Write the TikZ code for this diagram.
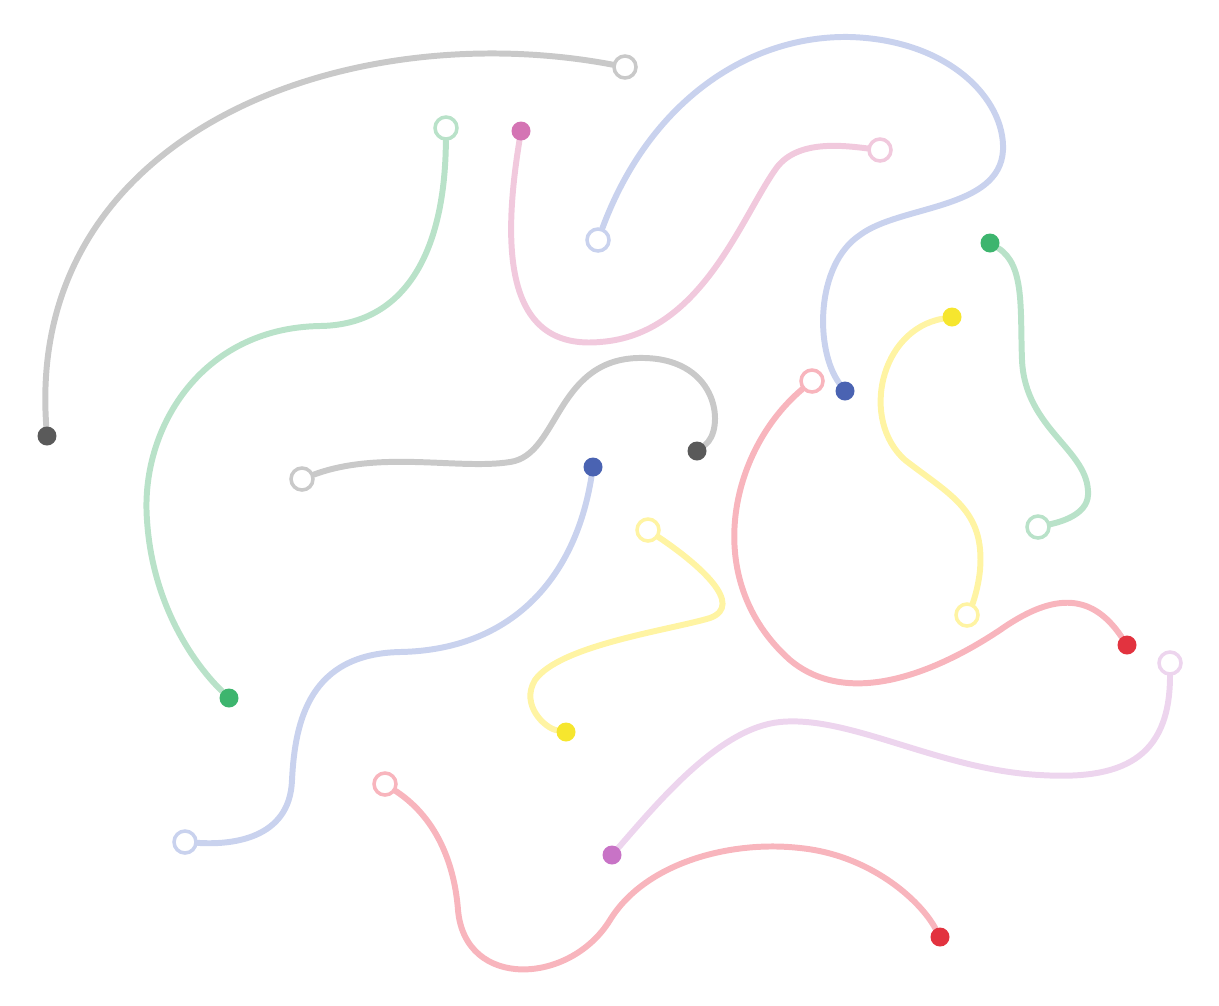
\documentclass[tikz,border=0pt]{standalone}
\usepackage{xcolor}
\usepackage{tikz}
\usetikzlibrary{positioning,calc}
\definecolor{grayline}{HTML}{C9C9C9}
\definecolor{graydot}{HTML}{5A5A5A}
\definecolor{greenline}{HTML}{B9E2C9}
\definecolor{greendot}{HTML}{3DB56E}
\definecolor{blueline}{HTML}{C9D2EE}
\definecolor{bluedot}{HTML}{4A63B2}
\definecolor{pinkline}{HTML}{F1C9DD}
\definecolor{pinkdot}{HTML}{D474B4}
\definecolor{lilacline}{HTML}{EDD5EE}
\definecolor{lilacdot}{HTML}{C873C6}
\definecolor{yellowline}{HTML}{FFF4A3}
\definecolor{yellowdot}{HTML}{F6E62E}
\definecolor{redline}{HTML}{F8B5BD}
\definecolor{reddot}{HTML}{E2333F}
\pgfdeclarelayer{wires}
\pgfsetlayers{wires,main}

\begin{document}
\begin{tikzpicture}[x=0.02cm, y=-0.02cm,
  wire/.style={line width=3.4pt, line cap=round},
  enddot/.style={circle, inner sep=0pt, minimum size=0.38cm},
  endring/.style={circle, inner sep=0pt, minimum size=0.44cm, fill=white, line width=2pt}]
  \useasboundingbox (0,0) rectangle (1219,1005);
  % end points
  \node[enddot, fill=graydot] (grayonestart) at (47,436) {};
  \node[endring, draw=grayline] (grayoneend) at (625,67) {};
  \node[endring, draw=grayline] (graytwostart) at (302,479) {};
  \node[enddot, fill=graydot] (graytwoend) at (697,451) {};
  \node[endring, draw=greenline] (greenonestart) at (446,128) {};
  \node[enddot, fill=greendot] (greenoneend) at (229,698) {};
  \node[enddot, fill=greendot] (greentwostart) at (990,243) {};
  \node[endring, draw=greenline] (greentwoend) at (1038,527) {};
  \node[enddot, fill=pinkdot] (pinkstart) at (521,131) {};
  \node[endring, draw=pinkline] (pinkend) at (880,150) {};
  \node[endring, draw=blueline] (blueonestart) at (598,240) {};
  \node[enddot, fill=bluedot] (blueoneend) at (845,391) {};
  \node[enddot, fill=bluedot] (bluetwostart) at (593,467) {};
  \node[endring, draw=blueline] (bluetwoend) at (185,842) {};
  \node[enddot, fill=yellowdot] (yellowonestart) at (952,317) {};
  \node[endring, draw=yellowline] (yellowoneend) at (967,615) {};
  \node[endring, draw=yellowline] (yellowtwostart) at (648,530) {};
  \node[enddot, fill=yellowdot] (yellowtwoend) at (566,732) {};
  \node[endring, draw=redline] (redonestart) at (812,381) {};
  \node[enddot, fill=reddot] (redoneend) at (1127,645) {};
  \node[endring, draw=lilacline] (lilacstart) at (1170,663) {};
  \node[enddot, fill=lilacdot] (lilacend) at (612,855) {};
  \node[endring, draw=redline] (redtwostart) at (385,784) {};
  \node[enddot, fill=reddot] (redtwoend) at (940,937) {};
  % curves
  \begin{pgfonlayer}{wires}
  \draw[wire, grayline] (grayonestart) .. controls (25,130) and (350,15) .. (grayoneend);
  \draw[wire, grayline] (graytwostart) .. controls (380,450) and (460,470) .. (510,462)
    .. controls (560,455) and (555,355) .. (645,358)
    .. controls (720,360) and (725,430) .. (graytwoend);
  \draw[wire, greenline] (greenonestart) .. controls (445,260) and (400,325) .. (320,326)
    .. controls (200,328) and (140,430) .. (147,520)
    .. controls (152,600) and (190,660) .. (greenoneend);
  \draw[wire, greenline] (greentwostart) .. controls (1025,265) and (1020,310) .. (1022,360)
    .. controls (1025,430) and (1090,450) .. (1088,495)
    .. controls (1087,515) and (1060,522) .. (greentwoend);
  \draw[wire, pinkline] (pinkstart) .. controls (500,260) and (510,350) .. (600,342)
    .. controls (700,335) and (740,220) .. (775,170)
    .. controls (795,140) and (840,145) .. (pinkend);
  \draw[wire, blueline] (blueonestart) .. controls (650,100) and (750,35) .. (850,37)
    .. controls (950,40) and (1005,100) .. (1003,150)
    .. controls (1000,210) and (900,205) .. (860,235)
    .. controls (815,265) and (815,350) .. (blueoneend);
  \draw[wire, blueline] (bluetwostart) .. controls (575,580) and (510,650) .. (400,652)
    .. controls (310,654) and (295,720) .. (292,780)
    .. controls (290,840) and (230,845) .. (bluetwoend);
  \draw[wire, yellowline] (yellowonestart) .. controls (880,330) and (860,420) .. (905,460)
    .. controls (950,495) and (985,510) .. (980,570)
    .. controls (978,590) and (972,605) .. (yellowoneend);
  \draw[wire, yellowline] (yellowtwostart) .. controls (700,565) and (745,605) .. (710,618)
    .. controls (670,630) and (560,645) .. (535,680)
    .. controls (520,705) and (545,728) .. (yellowtwoend);
  \draw[wire, redline] (redonestart) .. controls (730,450) and (700,580) .. (790,660)
    .. controls (850,710) and (940,670) .. (1000,630)
    .. controls (1050,595) and (1090,590) .. (redoneend);
  \draw[wire, lilacline] (lilacstart) .. controls (1170,760) and (1120,780) .. (1040,775)
    .. controls (940,770) and (850,715) .. (780,722)
    .. controls (720,728) and (660,800) .. (lilacend);
  \draw[wire, redline] (redtwostart) .. controls (440,820) and (455,870) .. (458,910)
    .. controls (465,990) and (570,985) .. (610,920)
    .. controls (645,863) and (730,840) .. (800,848)
    .. controls (870,855) and (920,900) .. (redtwoend);
  \end{pgfonlayer}
\end{tikzpicture}
\end{document}
